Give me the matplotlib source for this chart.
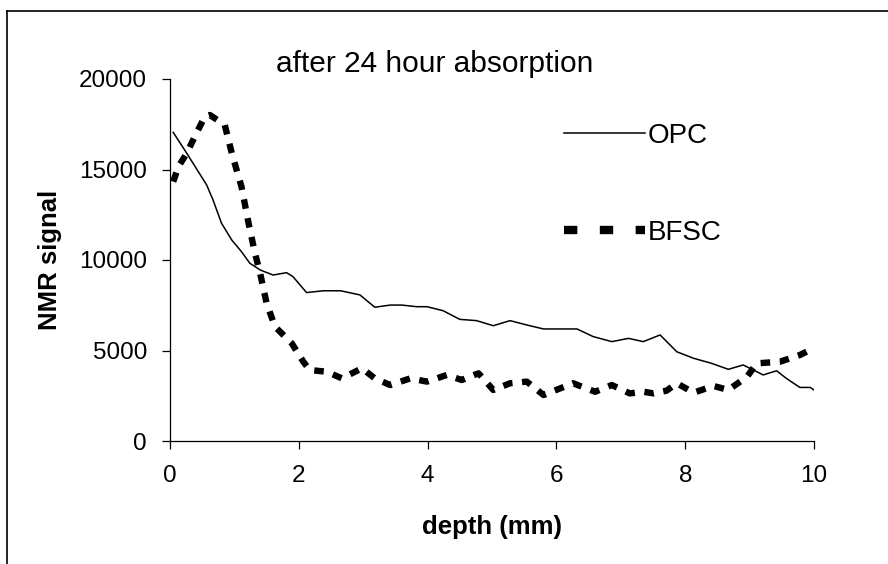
import matplotlib.pyplot as plt
from matplotlib.lines import Line2D

plt.rcParams['font.family'] = ['Liberation Sans', 'DejaVu Sans']

# profundidad (mm) y señal NMR
opc_x = [0.05, 0.26, 0.57, 0.67, 0.80, 0.96, 1.11, 1.24, 1.40, 1.60, 1.81, 1.91,
         2.12, 2.38, 2.65, 2.95, 3.18, 3.42, 3.60, 3.83, 3.99, 4.24, 4.50, 4.76,
         5.02, 5.28, 5.54, 5.80, 6.06, 6.32, 6.57, 6.86, 7.12, 7.35, 7.61, 7.87,
         8.13, 8.41, 8.67, 8.90, 9.06, 9.21, 9.42, 9.57, 9.78, 9.94, 10.0]
opc_y = [17050, 15900, 14140, 13300, 12030, 11100, 10460, 9820, 9450, 9170, 9300, 9080,
         8200, 8300, 8300, 8070, 7390, 7510, 7510, 7420, 7420, 7200, 6720, 6650,
         6370, 6650, 6410, 6190, 6190, 6190, 5770, 5490, 5670, 5490, 5860, 4930,
         4570, 4290, 3960, 4200, 3920, 3650, 3880, 3460, 2960, 2960, 2820]

bfsc_x = [0.05, 0.13, 0.26, 0.41, 0.54, 0.62, 0.85, 0.96, 1.11, 1.22, 1.32, 1.40,
          1.50, 1.63, 1.89, 2.07, 2.17, 2.43, 2.67, 2.98, 3.18, 3.42, 3.73, 3.99,
          4.30, 4.53, 4.79, 5.02, 5.28, 5.54, 5.80, 6.06, 6.26, 6.60, 6.86, 7.14,
          7.35, 7.51, 7.71, 7.87, 8.13, 8.44, 8.67, 8.96, 9.11, 9.47, 9.78, 9.99]
bfsc_y = [14330, 15150, 15900, 17000, 17920, 18010, 17460, 15900, 14050, 12030, 10370, 9260,
          7610, 6320, 5400, 4380, 3920, 3830, 3460, 4020, 3460, 3090, 3460, 3280,
          3650, 3370, 3740, 2820, 3190, 3280, 2540, 2910, 3190, 2720, 3090, 2630,
          2720, 2630, 2780, 3190, 2670, 3040, 2820, 3550, 4290, 4380, 4750, 5120]

fig = plt.figure(figsize=(8.88, 5.64), dpi=100)
ax = fig.add_axes([170/888, 1 - 441/564, 644/888, 362/564])

ax.plot(opc_x, opc_y, color='black', lw=1.1)
ax.plot(bfsc_x, bfsc_y, color='black', lw=4.6, dashes=(1.5, 1.5), dash_capstyle='butt')

ax.set_xlim(0, 10)
ax.set_ylim(0, 20000)
ax.set_xticks([0, 2, 4, 6, 8, 10])
ax.set_yticks([0, 5000, 10000, 15000, 20000])
for s in ['top', 'right']:
    ax.spines[s].set_visible(False)
for s in ['left', 'bottom']:
    ax.spines[s].set_linewidth(0.9)
ax.tick_params(axis='both', direction='out', length=6, width=0.9, labelsize=17.5)
ax.tick_params(axis='x', pad=11.5)
ax.tick_params(axis='y', pad=10.5)

ax.set_xlabel('depth (mm)', fontsize=18.5, fontweight='bold')
ax.set_ylabel('NMR signal', fontsize=18.5, fontweight='bold')
ax.xaxis.set_label_coords(0.5, (441 - 527) / 362)
ax.xaxis.label.set_va('center')
ax.yaxis.set_label_coords((50 - 170) / 644, 0.5)
ax.yaxis.label.set_va('center')

fig.text(435/888, 1 - 72/564, 'after 24 hour absorption', fontsize=21.5,
         ha='center', va='baseline')

handles = [Line2D([], [], color='black', lw=1.1),
           Line2D([], [], color='black', lw=6, dashes=(1.6, 2.7), dash_capstyle='butt')]
ax.legend(handles, ['OPC', 'BFSC'], frameon=False, fontsize=20, handlelength=2.9,
          handletextpad=0.1, labelspacing=2.55, loc='upper left', borderpad=0,
          bbox_to_anchor=((564 - 170) / 644, (441 - 123) / 362), borderaxespad=0)

# marco exterior (solo arriba e izquierda visibles)
fig.add_artist(Line2D([7/888, 7/888], [0, 1 - 11/564], color='black', lw=1.2))
fig.add_artist(Line2D([7/888, 1], [1 - 11/564, 1 - 11/564], color='black', lw=1.2))

fig.savefig('out.png', dpi=100)
